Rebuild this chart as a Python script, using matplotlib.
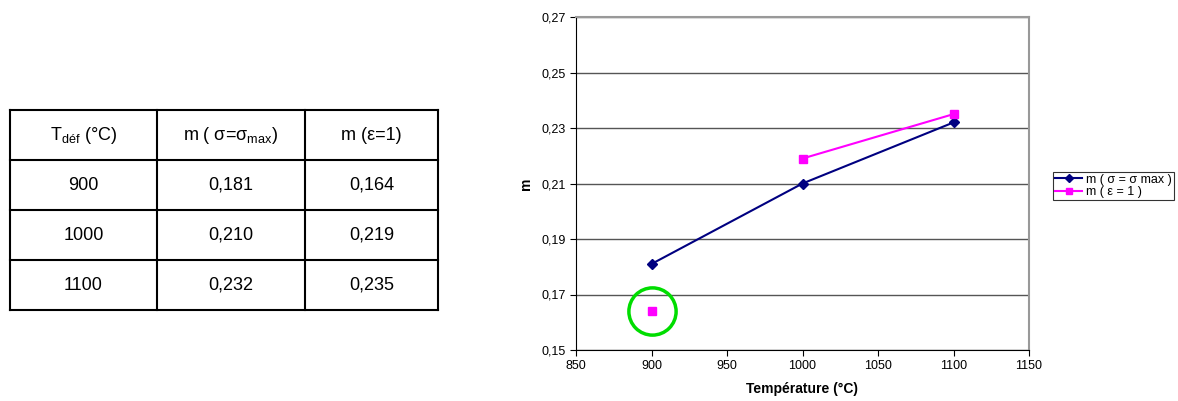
import matplotlib
matplotlib.use("Agg")
import matplotlib.pyplot as plt
import numpy as np

plt.rcParams['font.family'] = ['Liberation Sans', 'DejaVu Sans']
plt.rcParams['mathtext.fontset'] = 'custom'
plt.rcParams['mathtext.rm'] = 'Liberation Sans'

# données
temps = [900, 1000, 1100]
m_sigma_max = [0.181, 0.210, 0.232]
m_eps1 = [0.164, 0.219, 0.235]
temp_labels = ["900", "1000", "1100"]
sigma_labels = ["0,181", "0,210", "0,232"]
eps_labels = ["0,164", "0,219", "0,235"]
y_ticks = [0.15, 0.17, 0.19, 0.21, 0.23, 0.25, 0.27]
x_ticks = [850, 900, 950, 1000, 1050, 1100, 1150]

W, H = 1178, 401
fig = plt.figure(figsize=(W / 100, H / 100), dpi=100)

# ---- tableau à gauche ----
tab = fig.add_axes([0, 0, 1, 1])
tab.set_xlim(0, W)
tab.set_ylim(H, 0)
tab.axis('off')
col_x = [10, 157, 305, 438]
row_y = [110, 160, 210, 260, 310]
for x in col_x:
    tab.plot([x, x], [row_y[0], row_y[-1]], color='black', lw=1.5)
for y in row_y:
    tab.plot([col_x[0], col_x[-1]], [y, y], color='black', lw=1.5)

headers = [r"T$_{\mathregular{déf}}$ (°C)",
           r"m ( σ=σ$_{\mathregular{max}}$)",
           "m (ε=1)"]
cols = [temp_labels, sigma_labels, eps_labels]
for j in range(3):
    cx = (col_x[j] + col_x[j + 1]) / 2
    tab.text(cx, (row_y[0] + row_y[1]) / 2, headers[j], ha='center', va='center', fontsize=13)
    for i in range(3):
        cy = (row_y[i + 1] + row_y[i + 2]) / 2
        tab.text(cx, cy, cols[j][i], ha='center', va='center', fontsize=13)

# ---- graphique ----
ax = fig.add_axes([576 / W, 1 - 350 / H, (1029 - 576) / W, (350 - 17) / H])
ax.plot(temps, m_sigma_max, color='#000080', lw=1.5, marker='D', ms=5,
        label="m ( σ = σ max )")
ax.plot(temps[1:], m_eps1[1:], color='#FF00FF', lw=1.5, marker='s', ms=6)
ax.plot(temps[:1], m_eps1[:1], color='#FF00FF', lw=0, marker='s', ms=6)
ax.plot([], [], color='#FF00FF', lw=1.5, marker='s', ms=6, label="m ( ε = 1 )")
# cercle vert autour du point 900
ax.plot(temps[:1], m_eps1[:1], marker='o', ms=34, mfc='none', mec='#00DD00', mew=2.5, lw=0)

ax.set_xlim(850, 1150)
ax.set_ylim(0.15, 0.27)
ax.set_xticks(x_ticks)
ax.set_yticks(y_ticks)
ax.set_yticklabels([f"{v:.2f}".replace('.', ',') for v in y_ticks])
ax.tick_params(labelsize=9, direction='out', length=4)
ax.yaxis.grid(True, color='#555555', lw=1)
ax.set_axisbelow(True)
for s in ['top', 'right']:
    ax.spines[s].set_color('#999999')
    ax.spines[s].set_linewidth(1.5)
ax.set_xlabel("Température (°C)", fontsize=10, fontweight='bold', labelpad=7)
ax.set_ylabel("m", fontsize=10, fontweight='bold', labelpad=6)

leg = ax.legend(loc='upper left', bbox_to_anchor=(1053 / W, 1 - 172 / H),
                bbox_transform=fig.transFigure, fontsize=9, frameon=True,
                fancybox=False, edgecolor='black', borderpad=0.15,
                handlelength=2.2, handletextpad=0.3, labelspacing=0.05,
                borderaxespad=0, markerscale=0.8)
leg.get_frame().set_linewidth(0.8)

fig.savefig("out.png", dpi=100)
